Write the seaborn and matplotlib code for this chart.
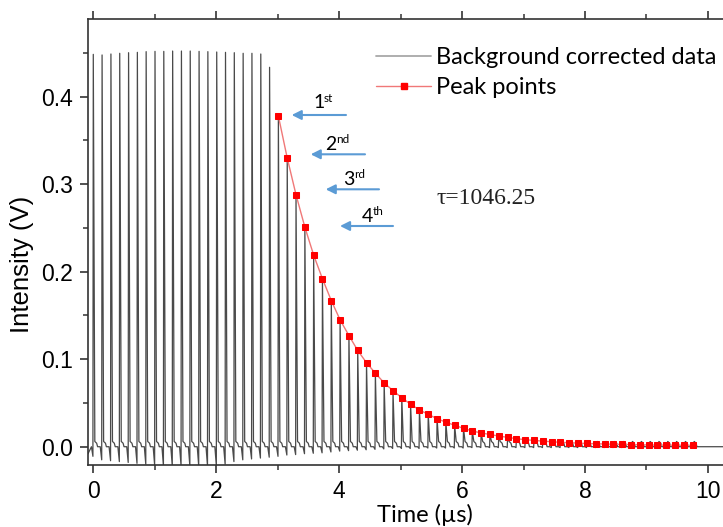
import numpy as np
import pandas as pd
import matplotlib
matplotlib.use("Agg")
import matplotlib.pyplot as plt
from matplotlib.lines import Line2D
from matplotlib.ticker import MultipleLocator, FormatStrFormatter
import seaborn as sns

# ---------------- data ----------------
pre_times = [0.000, 0.143, 0.287, 0.430, 0.574, 0.717, 0.860, 1.004, 1.147, 1.291,
             1.434, 1.577, 1.721, 1.864, 2.008, 2.151, 2.294, 2.438, 2.581, 2.725, 2.868]
pre_heights = [0.4484, 0.4477, 0.4488, 0.4496, 0.4503, 0.4507, 0.4515, 0.4518, 0.4518, 0.4522,
               0.4522, 0.4522, 0.4518, 0.4515, 0.4511, 0.4507, 0.4503, 0.4496, 0.4496, 0.4488, 0.4336]

peak_times = [3.011, 3.155, 3.298, 3.442, 3.585, 3.728, 3.872, 4.015, 4.159, 4.302,
              4.445, 4.589, 4.732, 4.876, 5.019, 5.162, 5.306, 5.449, 5.593, 5.736,
              5.879, 6.023, 6.166, 6.310, 6.453, 6.596, 6.740, 6.883, 7.027, 7.170,
              7.313, 7.457, 7.600, 7.744, 7.887, 8.030, 8.174, 8.317, 8.461, 8.604,
              8.747, 8.891, 9.034, 9.178, 9.321, 9.464, 9.608, 9.751]
peak_points = [0.378, 0.330, 0.288, 0.251, 0.219, 0.192, 0.167, 0.145, 0.127, 0.110,
               0.096, 0.084, 0.073, 0.064, 0.056, 0.0485, 0.042, 0.037, 0.032, 0.028,
               0.0245, 0.021, 0.018, 0.0157, 0.014, 0.0122, 0.0107, 0.0092, 0.0080, 0.0072,
               0.0064, 0.0057, 0.0050, 0.0046, 0.0041, 0.0037, 0.0034, 0.0031, 0.0028, 0.0026,
               0.0024, 0.0022, 0.0020, 0.0019, 0.0018, 0.0017, 0.0016, 0.0015]

# undershoot just before each pulse (all 69 pulses)
dip_depths = [-0.011, -0.015, -0.016, -0.017, -0.018, -0.019, -0.020, -0.021, -0.022, -0.022,
              -0.022, -0.022, -0.022, -0.022, -0.022, -0.020, -0.017, -0.015, -0.014, -0.013,
              -0.012, -0.011, -0.0095, -0.009, -0.008, -0.0075, -0.007, -0.006, -0.005, -0.0045,
              -0.004, -0.0035, -0.003, -0.0025, -0.002, -0.002, -0.002, -0.002, -0.0015, -0.0015,
              -0.0015, -0.0015, -0.0015, -0.001, -0.001, -0.001, -0.001, -0.001, -0.001, -0.001,
              -0.001, -0.001, -0.001, -0.001, -0.001, -0.001, -0.001, -0.001, -0.001, -0.001,
              -0.001, -0.001, -0.001, -0.001, -0.001, -0.001, -0.001, -0.001, -0.001]

tau_label = "τ=1046.25"
ordinals = [("1", "st"), ("2", "nd"), ("3", "rd"), ("4", "th")]

# ---------------- build the background-corrected trace ----------------
all_times = pre_times + peak_times
all_heights = pre_heights + peak_points
tt, vv = [-0.086], [-0.008]
for t, h, d in zip(all_times, all_heights, dip_depths):
    tt += [t - 0.03, t - 0.006, t, t + 0.025, t + 0.055, t + 0.07]
    vv += [0.0, d, h, 0.006, 0.004, 0.0]
tt += [10.6]
vv += [0.0]
bg = pd.DataFrame({"t": tt, "v": vv})
pk = pd.DataFrame({"t": peak_times, "v": peak_points})

# ---------------- figure ----------------
sns.set_theme(style="ticks")
plt.rcParams["font.family"] = ["Liberation Sans", "DejaVu Sans"]
W, H = 723, 527
fig = plt.figure(figsize=(W / 100, H / 100), dpi=100)
ax = fig.add_axes([88 / W, (H - 465) / H, (738.7 - 88) / W, 446 / H])

sns.lineplot(data=bg, x="t", y="v", sort=False, estimator=None, ax=ax,
             color="#4a4a4a", lw=0.9)
sns.lineplot(data=pk, x="t", y="v", sort=False, estimator=None, ax=ax,
             color="#f07878", lw=1.0, marker="s", markersize=3.8,
             markerfacecolor="#ff0000", markeredgecolor="#ff0000")

ax.set_xlim(-0.086, 10.5)
ax.set_ylim(-0.0209, 0.4888)
ax.xaxis.set_major_locator(MultipleLocator(2))
ax.xaxis.set_minor_locator(MultipleLocator(1))
ax.yaxis.set_major_locator(MultipleLocator(0.1))
ax.yaxis.set_minor_locator(MultipleLocator(0.05))
ax.yaxis.set_major_formatter(FormatStrFormatter("%.1f"))

for s in ["left", "bottom", "top"]:
    ax.spines[s].set_visible(True)
    ax.spines[s].set_color("#333333")
    ax.spines[s].set_linewidth(1.2)
ax.spines["right"].set_visible(False)
ax.tick_params(axis="both", which="major", direction="out", length=6, width=1.2,
               color="#333333", labelsize=16.5, labelcolor="black", pad=5)
ax.tick_params(axis="both", which="minor", direction="out", length=3.5, width=1.1,
               color="#333333")
ax.tick_params(axis="x", which="both", top=True, labeltop=False)
ax.tick_params(axis="y", which="both", right=False)

ax.set_xlabel("Time (µs)", fontsize=17, family=["Lato", "DejaVu Sans"], color="black")
ax.xaxis.set_label_coords((425 - 88) / (738.7 - 88), -0.088)
ax.set_ylabel("Intensity (V)", fontsize=18.5, color="black")
ax.yaxis.set_label_coords(-(88 - 22) / (738.7 - 88), 0.45)
ax.yaxis.label.set_va("center")

# legend
handles = [Line2D([], [], color="#a8a8a8", lw=1.3),
           Line2D([], [], color="#f07878", lw=1.0, marker="s", markersize=4,
                  markerfacecolor="#ff0000", markeredgecolor="#ff0000")]
leg = ax.legend(handles, ["Background corrected data", "Peak points"],
                loc="upper left", bbox_to_anchor=(376 / W, 1 - 47 / H),
                bbox_transform=fig.transFigure, frameon=False, borderpad=0,
                borderaxespad=0, handlelength=2.35, handletextpad=0.2,
                labelspacing=0.4, prop={"family": ["Lato", "DejaVu Sans"], "size": 17})
for txt in leg.get_texts():
    txt.set_color("black")

# ordinal arrows
blue = "#5b9bd5"
arrows = [((346, 115), (291.7, 115)), ((365, 154.3), (310.7, 154.3)),
          ((379, 189.3), (325.7, 189.3)), ((393, 226), (340, 226))]
for (tail, head) in arrows:
    ax.annotate("", xy=(head[0], H - head[1]), xycoords="figure pixels",
                xytext=(tail[0], H - tail[1]), textcoords="figure pixels",
                arrowprops=dict(arrowstyle="-|>", color=blue, lw=1.5,
                                mutation_scale=14, shrinkA=0, shrinkB=0))
num_pos = [(313, 108), (325, 150), (343, 185), (362, 222)]
sup_pos = [(324, 101.5), (336, 143), (354, 178), (373, 215)]
for (n, sup), (nx, ny), (sx, sy) in zip(ordinals, num_pos, sup_pos):
    fig.text(nx / W, 1 - ny / H, n, fontsize=14, family=["Lato", "DejaVu Sans"],
             ha="left", va="baseline", color="black")
    fig.text(sx / W, 1 - sy / H, sup, fontsize=8.5, family=["Lato", "DejaVu Sans"],
             ha="left", va="baseline", color="black")

fig.text(437 / W, 1 - 204 / H, tau_label, fontsize=17,
         family=["Liberation Serif", "DejaVu Serif"], ha="left", va="baseline",
         color="#222222")

fig.savefig("out.png", dpi=100)
